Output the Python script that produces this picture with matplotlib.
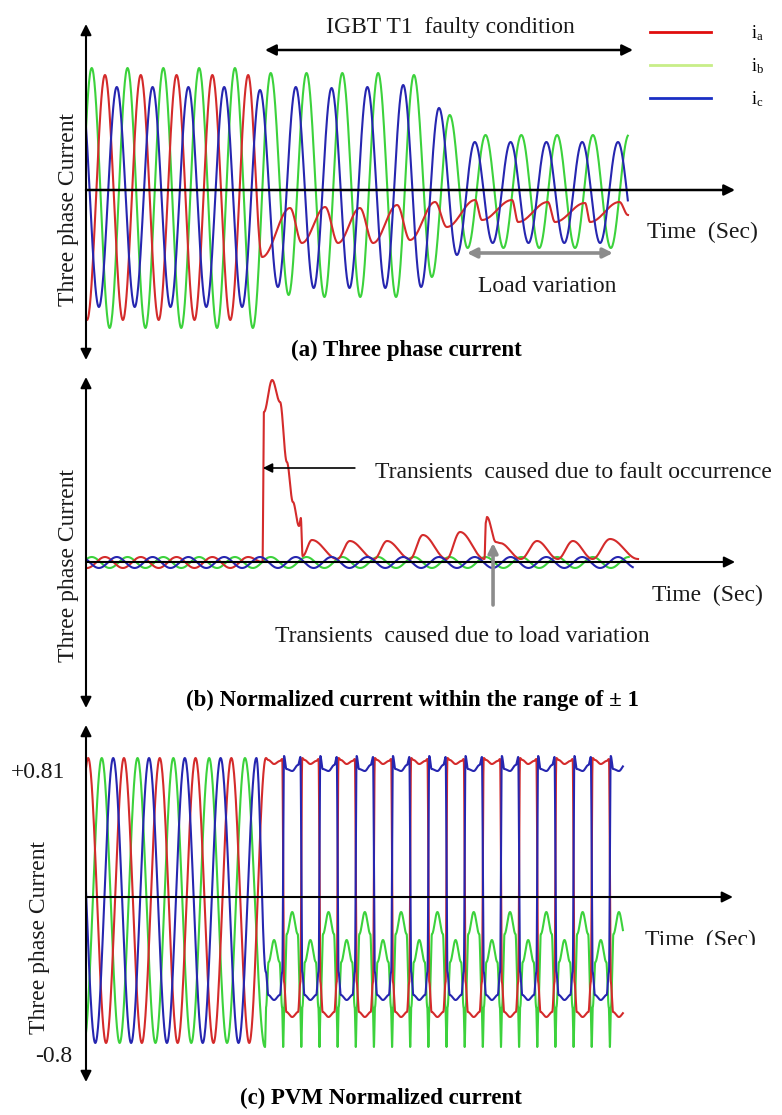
import numpy as np
import matplotlib.pyplot as plt
from matplotlib.lines import Line2D
from matplotlib.transforms import Bbox, TransformedBbox

plt.rcParams['font.family'] = ['Liberation Serif', 'DejaVu Serif']
plt.rcParams['mathtext.fontset'] = 'stix'

# ---------------- data (time in cycles, current in plot units) ----------------
t_fault = 5.0
half = 0.5

# (a) three phase current: extremum values, one per half-cycle
a_green = [-138, 122, -138, 122, -138, 122, -138, 122, -138, 122, -138,
           117, -105, 117, -107, 117, -107, 117, -107, 115, -87, 75, -58,
           55, -58, 55, -58, 55, -58, 55, -58, 55]
a_blue = [103, -117, 103, -117, 103, -117, 103, -117, 103, -117, 100,
          -97, 103, -98, 102, -98, 103, -98, 105, -97, 82, -65,
          48, -53, 48, -53, 48, -53, 48, -53, 48, -53]
a_red = [115, -130, 115, -130, 115, -130, 115, -130, 115, -130, 115]
# phase a after the fault (IGBT T1 open)
a_red_post_t = [4.92, 5.70, 6.03, 6.68, 7.04, 7.65, 8.02, 8.69, 9.05, 9.75, 10.08,
                10.87, 11.06, 11.90, 12.07, 12.90, 13.10, 13.94, 14.08, 14.90, 15.14]
a_red_post = [-67, -18, -53, -17, -53, -18, -53, -15, -50, -12, -37,
              -10, -30, -10, -32, -12, -32, -13, -32, -12, -25]

# (b) normalized current
b_green = [-6, 5] * 16
b_blue = [5, -6] * 16
b_red = [5, -6] * 5 + [5]
b_red_post_t = [4.93, 4.97, 5.20, 5.42, 5.61, 5.78, 5.95, 6.00, 6.05,
                6.31, 7.02, 7.37, 8.05, 8.41, 9.05, 9.41, 10.07, 10.45, 11.13,
                11.17, 11.20, 11.45, 11.56, 12.15, 12.60, 13.18, 13.60, 14.15, 14.64, 15.42]
b_red_post = [0, 150, 182, 160, 100, 60, 36, 44, 6,
              22, 3, 21, 3, 21, 3, 27, 3, 30, 3,
              40, 45, 20, 19, 3, 21, 3, 21, 3, 23, 3]

# (c) PVM normalized current
c_red = [-146, 139] * 5 + [-146]
c_green = [-146, 139] * 5
c_blue = [139, -146] * 5 + [139]
n_half_post = 20
pvm_red_high = [139, 137, 133, 136, 138]
pvm_red_low = [-85, -115, -120, -115, -85]
pvm_blue_high = [141, 128, 126, 132, 140]
pvm_blue_low = [-75, -98, -103, -98, -75]
pvm_green_crest = [-43, -15]   # while blue is low / while red is low
pvm_green_foot = -110
pvm_green_spike = -150

colors = {'a': '#d42b2b', 'b': '#3cd23c', 'c': '#2626b0'}
legend_colors = ['#e00d0d', '#c8ee88', '#1a2fc4']


def eased(times, values, t_hi, n=40):
    # join extrema with half-cosine segments (a sine between peak and trough)
    ts, vs = [], []
    for t0, v0, t1, v1 in zip(times[:-1], values[:-1], times[1:], values[1:]):
        s = np.linspace(0, 1, n, endpoint=False)
        ts.append(t0 + (t1 - t0) * s)
        vs.append(v0 + (v1 - v0) * (1 - np.cos(np.pi * s)) / 2)
    ts.append([times[-1]])
    vs.append([values[-1]])
    t = np.concatenate(ts)
    v = np.concatenate(vs)
    keep = t <= t_hi
    return t[keep], v[keep]


def extrema_times(start, count):
    return list(start + half * np.arange(count))


def pvm_knots(even_levels, odd_levels):
    ts, vs = [], []
    offs = [0.025, 0.09, None, -0.09, -0.025]
    for k in range(n_half_post):
        a = t_fault + k * 0.507
        b = a + 0.507
        lv = even_levels if k % 2 == 0 else odd_levels
        for o, v in zip(offs, lv):
            if o is None:
                ts.append((a + b) / 2)
            elif o > 0:
                ts.append(a + o)
            else:
                ts.append(b + o)
            vs.append(v)
    return ts, vs


def green_pvm_knots():
    ts, vs = [], []
    for k in range(n_half_post):
        a = t_fault + k * 0.507
        b = a + 0.507
        crest = pvm_green_crest[k % 2]
        ts += [a, a + 0.03, a + 0.1, (a + b) / 2, b - 0.1, b - 0.03]
        vs += [pvm_green_spike, pvm_green_foot, crest - 22, crest, crest - 22, pvm_green_foot]
    ts.append(t_fault + n_half_post * 0.507)
    vs.append(pvm_green_spike)
    return ts, vs


# ---------------- figure ----------------
W, H = 782, 1115
X0, X1 = 86, 770
PX_PER_CYCLE = 35.8
fig = plt.figure(figsize=(W / 100, H / 100), dpi=100)


def panel(top, bottom, axis_row):
    ax = fig.add_axes([X0 / W, 1 - bottom / H, (X1 - X0) / W, (bottom - top) / H])
    ax.set_xlim(0, (X1 - X0) / PX_PER_CYCLE)
    ax.set_ylim(axis_row - bottom, axis_row - top)
    ax.axis('off')
    return ax


def arrow(ax, start, end, style='-|>', color='black', lw=1.5, ms=16):
    ax.annotate('', xy=end, xytext=start,
                arrowprops=dict(arrowstyle=style, color=color, lw=lw,
                                mutation_scale=ms, shrinkA=0, shrinkB=0),
                annotation_clip=False)


lw = 1.5
txt = dict(fontsize=17, color='#1a1a1a')

# ---- (a) ----
ax = panel(18, 362, 190)
t, v = eased(extrema_times(-0.34, len(a_green)), a_green, 15.14)
ax.plot(t, v, color=colors['b'], lw=lw)
t, v = eased(extrema_times(-0.47, len(a_red)) + a_red_post_t, a_red + a_red_post, 15.14)
ax.plot(t, v, color=colors['a'], lw=lw)
t, v = eased(extrema_times(-0.14, len(a_blue)), a_blue, 15.14)
ax.plot(t, v, color=colors['c'], lw=lw)
arrow(ax, (0, 0), (18.13, 0), lw=1.8)
arrow(ax, (0, -170), (0, 166), style='<|-|>')
arrow(ax, (5.0, 140), (15.28, 140), style='<|-|>', lw=1.8)
ax.text(10.17, 163, 'IGBT T1  faulty condition', ha='center', va='center', **txt)
arrow(ax, (10.64, -63), (14.72, -63), style='<|-|>', color='#8c8c8c', lw=2.6, ms=14)
ax.text(10.95, -97, 'Load variation', ha='left', va='center', **txt)
ax.text(15.67, -42, 'Time  (Sec)', ha='left', va='center', **txt)
ax.text(8.94, -160, '(a) Three phase current', ha='center', va='center',
        fontsize=16.5, fontweight='bold')
ax.text(-0.5, -20, 'Three phase Current', rotation=90, ha='center', va='center', **txt)
handles = [Line2D([], [], color=c, lw=2) for c in legend_colors]
fig.legend(handles, [r'$\mathregular{i_a}$', r'$\mathregular{i_b}$', r'$\mathregular{i_c}$'],
           loc='upper left', bbox_to_anchor=(650 / W, 1 - 23 / H), frameon=False,
           fontsize=13, handlelength=3.4, handletextpad=2.2, labelspacing=0.75,
           borderpad=0, borderaxespad=0)

# ---- (b) ----
ax = panel(372, 712, 562)
t, v = eased(extrema_times(-0.34, len(b_green)), b_green, 15.28)
ax.plot(t, v, color=colors['b'], lw=lw)
t, v = eased(extrema_times(-0.47, len(b_red)) + b_red_post_t, b_red + b_red_post, 15.42)
ax.plot(t, v, color=colors['a'], lw=lw)
t, v = eased(extrema_times(-0.14, len(b_blue)), b_blue, 15.28)
ax.plot(t, v, color=colors['c'], lw=lw)
arrow(ax, (0, 0), (18.13, 0), lw=1.5)
arrow(ax, (0, -146), (0, 185), style='<|-|>')
arrow(ax, (7.51, 94), (4.94, 94), lw=1.2, ms=14)
ax.text(8.07, 89, 'Transients  caused due to fault occurrence', ha='left', va='center', **txt)
arrow(ax, (11.37, -43), (11.37, 19), color='#8c8c8c', lw=2.6, ms=14)
ax.text(5.28, -75, 'Transients  caused due to load variation', ha='left', va='center', **txt)
ax.text(15.81, -33, 'Time  (Sec)', ha='left', va='center', **txt)
ax.text(9.11, -138, '(b) Normalized current within the range of \u00b1 1', ha='center',
        va='center', fontsize=16.5, fontweight='bold')
ax.text(-0.5, -3, 'Three phase Current', rotation=90, ha='center', va='center', **txt)

# ---- (c) ----
ax = panel(722, 1086, 897)
gt, gv = green_pvm_knots()
t, v = eased(extrema_times(-0.06, len(c_green)) + gt, c_green + gv, 15.0)
ax.plot(t, v, color=colors['b'], lw=lw)
rt, rv = pvm_knots(pvm_red_high, pvm_red_low)
t, v = eased(extrema_times(-0.44, len(c_red)) + rt, c_red + rv, 15.0)
ax.plot(t, v, color=colors['a'], lw=lw)
bt, bv = pvm_knots(pvm_blue_low, pvm_blue_high)
t, v = eased(extrema_times(-0.24, len(c_blue)) + bt, c_blue + bv, 15.0)
ax.plot(t, v, color=colors['c'], lw=lw)
arrow(ax, (0, 0), (18.07, 0), lw=1.5)
arrow(ax, (0, -185), (0, 172), style='<|-|>')
ax.text(-0.59, 125, '+0.81', ha='right', va='center', **txt)
ax.text(-0.39, -160, '-0.8', ha='right', va='center', **txt)
tt = ax.text(15.61, -43, 'Time  (Sec)', ha='left', va='center', **txt)
tt.set_clip_box(TransformedBbox(Bbox([[14.0, -48], [19.5, 0]]), ax.transData))
tt.set_clip_on(True)
ax.text(8.24, -201, '(c) PVM Normalized current', ha='center', va='center',
        fontsize=16.5, fontweight='bold')
ax.text(-1.31, -40, 'Three phase Current', rotation=90, ha='center', va='center', **txt)

fig.savefig('out.png', dpi=100, facecolor='white')
